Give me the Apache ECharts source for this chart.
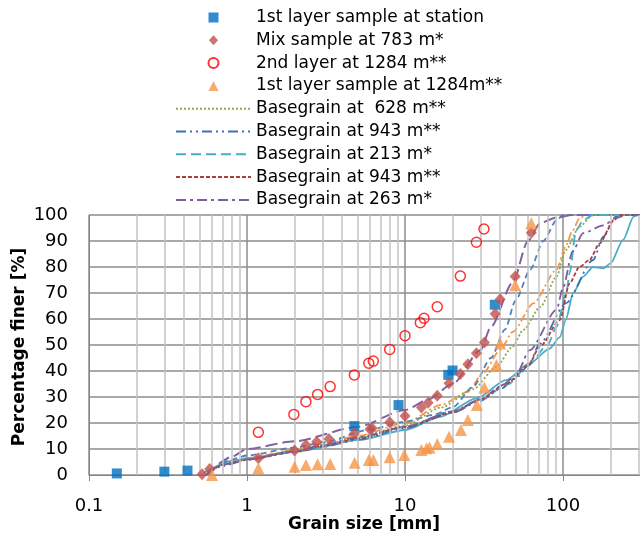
<!DOCTYPE html>
<html>
<head>
<meta charset="utf-8">
<script src="https://cdn.jsdelivr.net/npm/echarts@6/dist/echarts.min.js"></script>
<style>html,body{margin:0;padding:0;background:#fff;}#c{width:640px;height:539px;}</style>
</head>
<body>
<div id="c"></div>
<script>
// ---- data (grain size in mm, percentage finer in %) ----
const xTickLabels = ['0.1', '1', '10', '100', '1000'];
const minorGridX = [0.2,0.3,0.4,0.5,0.6,0.7,0.8,0.9,2,3,4,5,6,7,8,9,20,30,40,50,60,70,80,90,200,300,400,500,600,700,800,900];

const stationX = [0.15, 0.30, 0.42, 4.78, 9.1, 18.8, 20.0, 37.0];
const stationY = [0.6, 1.3, 1.7, 18.8, 26.9, 38.5, 40.2, 65.5];

const mixX = [0.52, 0.58, 1.18, 2.0, 2.36, 2.76, 3.3, 4.78, 6.0, 6.2, 8.0, 10, 12.7, 14, 16, 19, 22.4, 25, 28.3, 31.8, 37.2, 40, 49.8, 63];
const mixY = [0.3, 2.3, 6.4, 9.4, 11.5, 12.8, 13.8, 16, 17.6, 18, 20.3, 22.7, 26, 27.8, 30.5, 35.3, 38.8, 42.6, 46.8, 51, 62, 67.6, 76.3, 93.2];

const layer2X = [1.18, 1.98, 2.36, 2.8, 3.36, 4.78, 5.9, 6.3, 8.0, 10, 12.5, 13.2, 16, 22.4, 28.3, 31.6];
const layer2Y = [16.4, 23.3, 28.2, 31, 34, 38.5, 43, 43.8, 48.3, 53.6, 58.6, 60.3, 64.7, 76.5, 89.5, 94.6];

const layer1X = [0.6, 1.18, 2.0, 2.36, 2.8, 3.36, 4.8, 5.9, 6.3, 8.0, 9.9, 12.7, 13.7, 14.3, 16, 19, 22.6, 25, 28.5, 31.8, 37.9, 40, 49.8, 63];
const layer1Y = [0, 2.6, 3.2, 3.8, 4.1, 4.2, 4.7, 5.8, 5.8, 6.8, 7.7, 9.6, 10.3, 10.6, 11.9, 14.7, 17.3, 21.2, 26.9, 33.7, 42.3, 50.6, 73, 96.8];

const bg628X = [0.55, 0.7, 1, 2, 3, 5, 10, 17, 27, 38, 48, 56, 72, 91, 104, 127, 155, 1000];
const bg628Y = [0, 4, 6, 9.5, 11.5, 14.5, 19, 26, 33, 41.7, 49.4, 55.8, 64.7, 76.3, 86.5, 95.5, 100, 100];

const bg943aX = [0.55, 0.7, 1, 2, 3, 5, 10, 20, 30, 40, 50, 60, 71.5, 104, 155, 180, 216, 230, 1000];
const bg943aY = [0, 3.5, 5.8, 8.8, 10.8, 13.5, 18, 24, 28.5, 33, 37, 42, 50.6, 66, 82.7, 91.7, 99.4, 100, 100];

const bg213X = [0.55, 0.7, 1, 2, 3, 5, 10, 20, 30, 45, 60, 80, 91, 105, 110, 121, 134, 155, 1000];
const bg213Y = [0, 4, 6.2, 9, 11, 14, 18.5, 24.5, 29, 35, 42, 50, 57, 70, 77.6, 94, 98, 100, 100];

const bg943bX = [0.55, 0.7, 1, 2, 3, 5, 10, 20, 30, 43.5, 60, 71.5, 95.5, 110, 127, 147, 170, 210, 230, 1000];
const bg943bY = [0, 4, 6, 9, 11.2, 14, 18.5, 24, 29, 35, 42, 49.4, 59.6, 73.7, 80, 82.7, 89, 98, 100, 100];

const bg263X = [0.55, 0.7, 1, 2, 3, 5, 10, 20, 30, 40, 50, 61.6, 91, 100, 115, 134, 180, 220, 250, 1000];
const bg263Y = [0, 4, 6, 9, 11.5, 14.5, 18.5, 24.5, 29, 34, 38, 48, 63.5, 72, 86, 93, 96, 99, 100, 100];

const extraOrangeX = [0.55, 0.7, 1, 2, 3, 5, 10, 17, 25, 31, 40, 48, 65, 91, 104, 115, 127, 140, 1000];
const extraOrangeY = [0, 4, 6.5, 9.5, 12, 15, 20, 27, 32, 39, 48, 55, 66, 79, 88, 94, 98.7, 100, 100];

const extraTealX = [0.53, 0.86, 1, 2, 5.2, 10, 16.7, 28.4, 43.6, 61.6, 82, 95.5, 104, 116, 134, 155, 180, 200, 240, 280, 300, 1000];
const extraTealY = [0.8, 5.8, 6.5, 9, 13.5, 17.3, 22.4, 29.5, 36.5, 43, 48.5, 53, 59.6, 70, 76.3, 80, 79.5, 81.4, 90.4, 99.4, 100, 100];

const extraBlueX = [0.55, 0.8, 1, 2, 3, 6, 10, 15, 20, 27, 35, 43, 50, 62, 75, 91, 100, 1000];
const extraBlueY = [0, 6, 7.5, 10.5, 12.5, 17.5, 20.5, 23, 26, 34, 45, 56, 67, 79, 90, 98, 100, 100];

const extraPurpleX = [0.55, 0.8, 1, 2, 5, 10, 14, 20, 30, 35, 48, 60, 72, 91, 115, 1000];
const extraPurpleY = [0, 7, 10, 13, 18.5, 25, 29, 35, 48, 57, 74, 90, 97, 99, 100, 100];

const legendNames = [
  '1st layer sample at station',
  'Mix sample at 783 m*',
  '2nd layer at 1284 m**',
  '1st layer sample at 1284m**',
  'Basegrain at  628 m**',
  'Basegrain at 943 m**',
  'Basegrain at 213 m*',
  'Basegrain at 943 m** ',
  'Basegrain at 263 m*'
];
const legendIcons = [
  'path://M0,0L10,0L10,10L0,10Z',
  'path://M5,0L10,5.5L5,11L0,5.5Z',
  'path://M5,0.8A4.2,4.2,0,1,1,4.99,0.8Z',
  'path://M5,0L10,10L0,10Z',
  null, null, null, null, null
];

function zip(xs, ys) { return xs.map((x, i) => [x, ys[i]]); }

function lineSeries(name, xs, ys, color, dash, width) {
  return {
    name: name, type: 'line', data: zip(xs, ys), symbol: 'none', smooth: 0.25, smoothMonotone: 'x',
    z: 3, animation: false,
    lineStyle: { color: color, width: width || 1.8, type: dash },
    itemStyle: { color: color }
  };
}
function scatterSeries(name, xs, ys, symbol, size, itemStyle) {
  return {
    name: name, type: 'scatter', data: zip(xs, ys), symbol: symbol, symbolSize: size,
    z: 5, animation: false, itemStyle: itemStyle
  };
}

const chart = echarts.init(document.getElementById('c'), null, { renderer: 'canvas' });
const FONT = 'DejaVu Sans';
chart.setOption({
  backgroundColor: '#fff',
  animation: false,
  textStyle: { fontFamily: FONT },
  grid: { left: 89, top: 215, bottom: 64, right: -81, containLabel: false, outerBoundsMode: 'none' },
  legend: {
    data: legendNames.map((n, i) => legendIcons[i]
      ? { name: n, icon: legendIcons[i] }
      : { name: n, itemStyle: { opacity: 0, color: 'rgba(0,0,0,0)', borderWidth: 0 } }),
    orient: 'vertical', left: 175, top: 9, padding: 0,
    itemWidth: 75, itemHeight: 10, itemGap: 5.8,
    symbolKeepAspect: true,
    textStyle: { fontSize: 17, lineHeight: 16, color: '#000', fontFamily: FONT },
    selectedMode: false
  },
  xAxis: {
    type: 'log', logBase: 10, min: 0.1, max: 1000,
    axisLine: { show: true, lineStyle: { color: '#868686', width: 1 } },
    axisTick: { show: true, length: 6, lineStyle: { color: '#868686' } },
    axisLabel: {
      color: '#000', fontSize: 18, fontFamily: FONT, margin: 22,
      formatter: function (v) { const i = Math.round(Math.log10(v)) + 1; return xTickLabels[i] || ''; }
    },
    splitLine: { show: true, lineStyle: { color: '#8c8c8c', width: 1.5 } }
  },
  yAxis: {
    type: 'value', min: 0, max: 100, interval: 10,
    axisLine: { show: true, lineStyle: { color: '#868686', width: 1 } },
    axisTick: { show: false },
    axisLabel: { color: '#000', fontSize: 18, fontFamily: FONT, margin: 21 },
    splitLine: { show: true, lineStyle: { color: '#8c8c8c', width: 1.5 } }
  },
  graphic: [
    { type: 'text', x: 364, y: 525, z: 10,
      style: { text: 'Grain size [mm]', font: 'bold 17px "DejaVu Sans"', fill: '#000', align: 'center', verticalAlign: 'middle' } },
    { type: 'text', x: 20, y: 347, rotation: Math.PI / 2, z: 10,
      style: { text: 'Percentage finer [%]', font: 'bold 17px "DejaVu Sans"', fill: '#000', align: 'center', verticalAlign: 'middle' } }
  ],
  series: [
    {
      name: 'minor grid', type: 'line', data: [], z: 1, silent: true, animation: false,
      markLine: {
        silent: true, symbol: ['none', 'none'], animation: false,
        label: { show: false },
        lineStyle: { color: '#c3c3c3', width: 1.5, type: 'solid' },
        data: minorGridX.map(v => ({ xAxis: v }))
      }
    },
    lineSeries('Extra basegrain A', extraTealX, extraTealY, '#4BACC6', 'solid', 1.8),
    lineSeries('Extra basegrain B', extraOrangeX, extraOrangeY, '#F79646', [8, 3, 2, 3], 1.8),
    lineSeries('Extra basegrain C', extraBlueX, extraBlueY, '#4F81BD', [6, 4], 1.8),
    lineSeries('Extra basegrain D', extraPurpleX, extraPurpleY, '#8064A2', [12, 5], 2),
    lineSeries(legendNames[4], bg628X, bg628Y, '#8FAA4C', [2, 2], 1.8),
    lineSeries(legendNames[5], bg943aX, bg943aY, '#3F6FB0', [10, 4, 2, 4, 2, 4], 1.8),
    lineSeries(legendNames[6], bg213X, bg213Y, '#4BACC6', [10, 5], 1.8),
    lineSeries(legendNames[7], bg943bX, bg943bY, '#A9403D', [4, 2], 1.8),
    lineSeries(legendNames[8], bg263X, bg263Y, '#7A5E9E', [10, 4, 3, 4], 1.8),
    scatterSeries(legendNames[0], stationX, stationY, 'rect', 10, { color: '#0070C0' }),
    scatterSeries(legendNames[1], mixX, mixY, 'diamond', [11, 12], { color: '#C0504D' }),
    scatterSeries(legendNames[2], layer2X, layer2Y, 'circle', 10, { color: 'rgba(255,255,255,0)', borderColor: '#FF0000', borderWidth: 1.5 }),
    scatterSeries(legendNames[3], layer1X, layer1Y, 'triangle', 12, { color: '#F79646' })
  ]
});
</script>
</body>
</html>
